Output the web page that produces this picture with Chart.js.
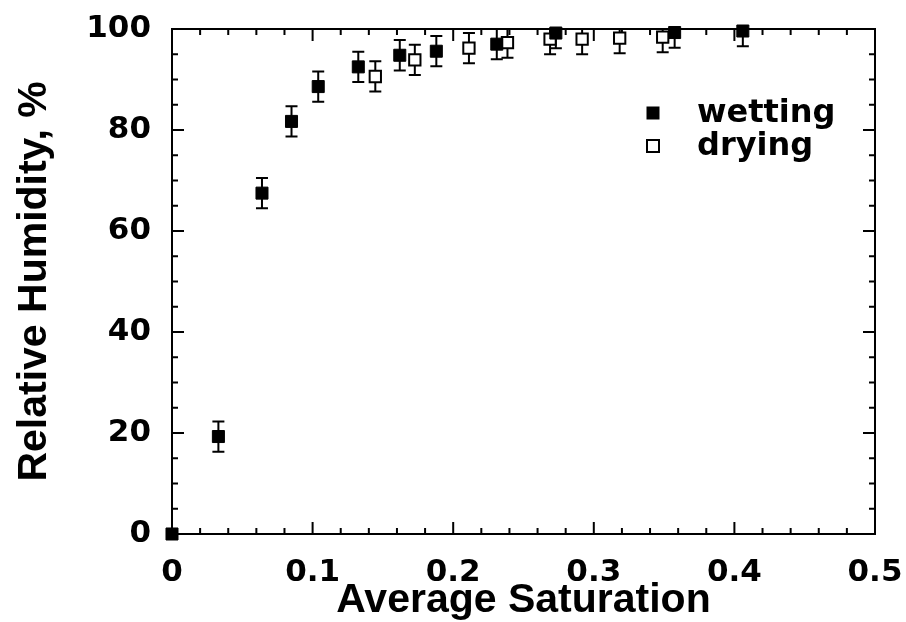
<!DOCTYPE html>
<html>
<head>
<meta charset="utf-8">
<title>Relative Humidity vs Average Saturation</title>
<script src="https://cdn.jsdelivr.net/npm/chart.js@4.4.1/dist/chart.umd.min.js"></script>
<style>
  html, body { margin: 0; padding: 0; background: #fff; }
  #wrap { width: 906px; height: 622px; }
</style>
</head>
<body>
<div id="wrap"><canvas id="chart" width="906" height="622"></canvas></div>
<script>
// ---- data ----
const wettingX   = [0, 0.033, 0.064, 0.085, 0.104, 0.1325, 0.162, 0.188, 0.231, 0.273, 0.3575, 0.406];
const wettingY   = [0, 19.3, 67.5, 81.7, 88.6, 92.5, 94.8, 95.6, 97.0, 99.2, 99.3, 99.6];
const wettingErr = [0, 3, 3, 3, 3, 3, 3, 3, 3, 3, 3, 3];

const dryingX   = [0.1446, 0.1727, 0.2112, 0.2386, 0.2689, 0.2917, 0.3184, 0.349];
const dryingY   = [90.6, 93.9, 96.2, 97.3, 98.0, 98.0, 98.2, 98.4];
const dryingErr = [3, 3, 3, 3, 3, 3, 3, 3];

const xTickLabels = ["0", "0.1", "0.2", "0.3", "0.4", "0.5"];
const yTickLabels = ["0", "20", "40", "60", "80", "100"];

const seriesNames = ["wetting", "drying"];

// ---- helpers ----
function points(xs, ys) {
  return xs.map((x, i) => ({ x: x, y: ys[i] }));
}
function isMajorX(v) { return Math.abs(v * 10 - Math.round(v * 10)) < 1e-6; }
function isMajorY(v) { return Math.abs(v / 20 - Math.round(v / 20)) < 1e-6; }

// no extra room for label overhang, the layout padding handles it
function noOverhang(s) {
  s.paddingLeft = 0; s.paddingRight = 0;
  s.paddingTop = 0; s.paddingBottom = 0;
}

const TICK_FONT = { family: "'DejaVu Sans', sans-serif", size: 31, weight: "bold", lineHeight: 1 };
const TITLE_FONT = { family: "'Liberation Sans', Arial, sans-serif", size: 41, weight: "bold", lineHeight: 1 };

// error bars, drawn under the markers
const errorBars = {
  id: "errorBars",
  beforeDatasetsDraw(chart) {
    const { ctx, chartArea, scales } = chart;
    const errs = [wettingErr, dryingErr];
    ctx.save();
    ctx.beginPath();
    ctx.rect(chartArea.left, chartArea.top, chartArea.right - chartArea.left, chartArea.bottom - chartArea.top);
    ctx.clip();
    ctx.strokeStyle = "#000";
    ctx.lineWidth = 2;
    chart.data.datasets.forEach((ds, di) => {
      ds.data.forEach((p, i) => {
        const e = errs[di][i];
        if (!e) return;
        const px = scales.x.getPixelForValue(p.x);
        const top = scales.y.getPixelForValue(p.y + e);
        const bot = scales.y.getPixelForValue(p.y - e);
        ctx.beginPath();
        ctx.moveTo(px, top); ctx.lineTo(px, bot);
        ctx.moveTo(px - 6, top); ctx.lineTo(px + 6, top);
        ctx.moveTo(px - 6, bot); ctx.lineTo(px + 6, bot);
        ctx.stroke();
      });
    });
    ctx.restore();
  }
};

// box frame with inward ticks on all four sides
const frame = {
  id: "frame",
  beforeDatasetsDraw(chart) {
    const { ctx, chartArea: a, scales } = chart;
    ctx.save();
    ctx.strokeStyle = "#000";
    ctx.lineWidth = 2;
    ctx.strokeRect(a.left, a.top, a.right - a.left, a.bottom - a.top);
    ctx.beginPath();
    scales.x.ticks.forEach(t => {
      const px = scales.x.getPixelForValue(t.value);
      const len = isMajorX(t.value) ? 12 : 6;
      ctx.moveTo(px, a.bottom); ctx.lineTo(px, a.bottom - len);
      ctx.moveTo(px, a.top); ctx.lineTo(px, a.top + len);
    });
    scales.y.ticks.forEach(t => {
      const py = scales.y.getPixelForValue(t.value);
      const len = isMajorY(t.value) ? 12 : 6;
      ctx.moveTo(a.left, py); ctx.lineTo(a.left + len, py);
      ctx.moveTo(a.right, py); ctx.lineTo(a.right - len, py);
    });
    ctx.stroke();
    ctx.restore();
  }
};

// legend in the upper right of the plot
const boxLegend = {
  id: "boxLegend",
  afterDraw(chart) {
    const { ctx, chartArea: a } = chart;
    ctx.save();
    ctx.font = "bold 32px 'DejaVu Sans', sans-serif";
    ctx.textBaseline = "alphabetic";
    chart.data.datasets.forEach((ds, i) => {
      const cy = a.top + 84 + i * 33;
      const mx = a.right - 222;
      ctx.fillStyle = ds.backgroundColor;
      ctx.strokeStyle = "#000";
      ctx.lineWidth = ds.borderWidth;
      ctx.fillRect(mx - 6, cy - 6, 12, 12);
      ctx.strokeRect(mx - 6, cy - 6, 12, 12);
      ctx.fillStyle = "#000";
      ctx.fillText(ds.label, a.right - 178, cy + 9);
    });
    ctx.restore();
  }
};

new Chart(document.getElementById("chart"), {
  type: "scatter",
  data: {
    datasets: [
      {
        label: seriesNames[0],
        data: points(wettingX, wettingY),
        pointStyle: "rect",
        pointRadius: 8.5,
        backgroundColor: "#000",
        borderColor: "#000",
        borderWidth: 1,
        clip: false
      },
      {
        label: seriesNames[1],
        data: points(dryingX, dryingY),
        pointStyle: "rect",
        pointRadius: 8,
        backgroundColor: "#fff",
        borderColor: "#000",
        borderWidth: 2,
        clip: false
      }
    ]
  },
  options: {
    responsive: false,
    devicePixelRatio: 1,
    animation: false,
    layout: { padding: { top: 29, right: 31, left: 0, bottom: 0 } },
    plugins: {
      legend: { display: false },
      tooltip: { enabled: false }
    },
    scales: {
      x: {
        type: "linear",
        min: 0,
        max: 0.5,
        grid: { display: false },
        border: { display: false },
        ticks: {
          stepSize: 0.02,
          autoSkip: false,
          maxRotation: 0,
          padding: 15,
          color: "#000",
          font: TICK_FONT,
          callback: v => isMajorX(v) ? xTickLabels[Math.round(v * 10)] : ""
        },
        title: {
          display: true,
          text: "Average Saturation",
          color: "#000",
          font: TITLE_FONT,
          padding: { top: 0, bottom: 1 }
        },
        afterFit(s) { s.height = 88; noOverhang(s); }
      },
      y: {
        type: "linear",
        min: 0,
        max: 100,
        grid: { display: false },
        border: { display: false },
        ticks: {
          stepSize: 5,
          autoSkip: false,
          padding: 13,
          color: "#000",
          font: TICK_FONT,
          callback: v => isMajorY(v) ? yTickLabels[Math.round(v / 20)] : ""
        },
        title: {
          display: true,
          text: "Relative Humidity, %",
          color: "#000",
          font: TITLE_FONT,
          padding: { top: 14, bottom: 0 }
        },
        afterFit(s) { s.width = 172; noOverhang(s); }
      }
    }
  },
  plugins: [errorBars, frame, boxLegend]
});
</script>
</body>
</html>
